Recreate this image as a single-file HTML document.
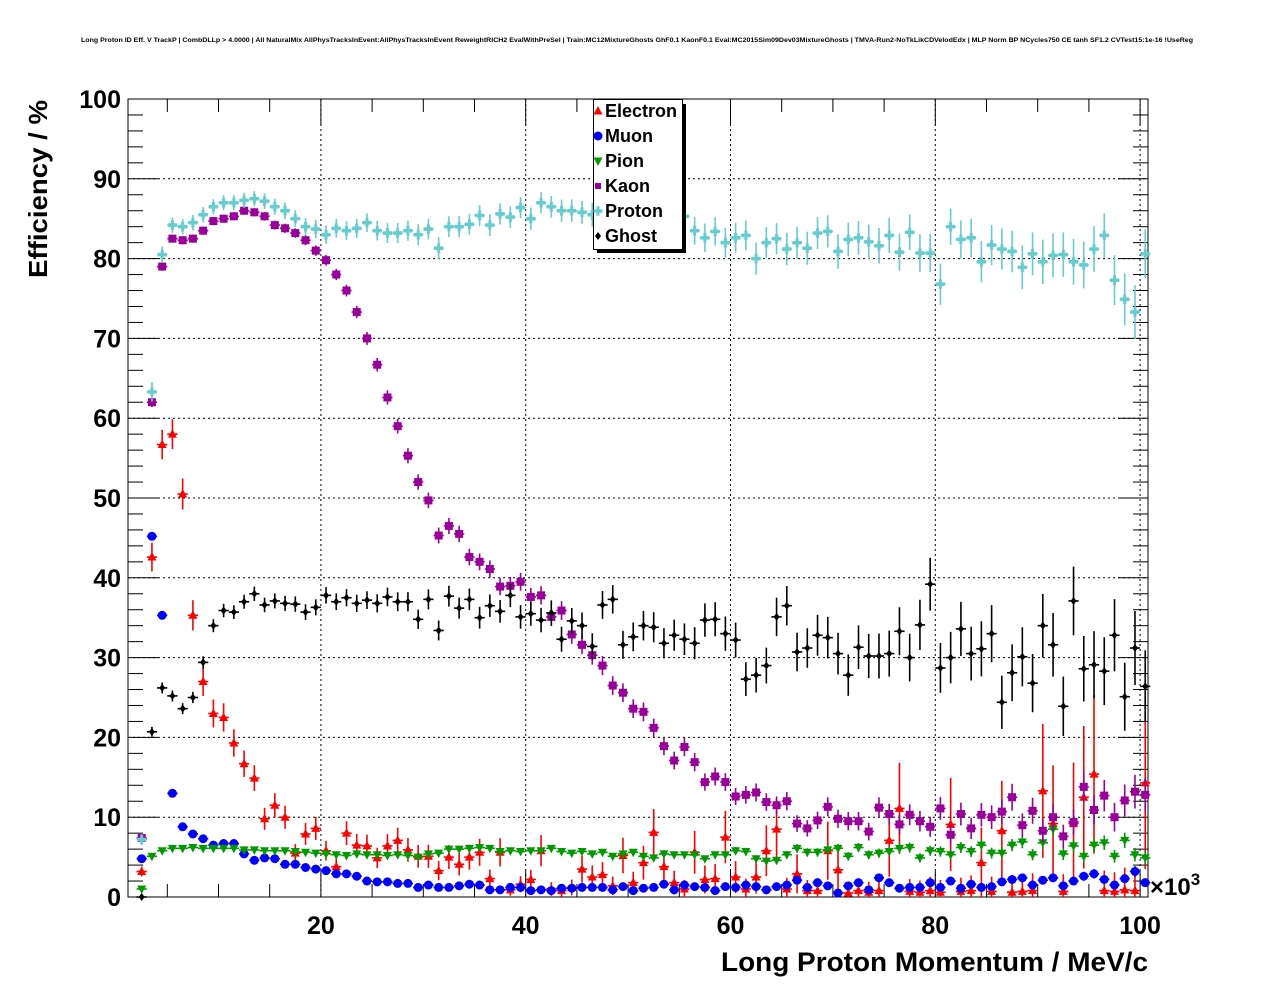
<!DOCTYPE html>
<html><head><meta charset="utf-8"><style>
html,body{margin:0;padding:0;background:#fff;}
svg{display:block;font-family:"Liberation Sans",sans-serif;}
</style></head><body>
<svg id="chart" width="1276" height="996" viewBox="0 0 1276 996">
<rect width="1276" height="996" fill="#fff"/>
<text x="637" y="42" font-size="6.5" font-weight="bold" text-anchor="middle" textLength="1112" lengthAdjust="spacingAndGlyphs">Long Proton ID Eff. V TrackP | CombDLLp &gt; 4.0000 | All NaturalMix AllPhysTracksInEvent:AllPhysTracksInEvent ReweightRICH2 EvalWithPreSel | Train:MC12MixtureGhosts GhF0.1 KaonF0.1 Eval:MC2015Sim09Dev03MixtureGhosts | TMVA-Run2-NoTkLikCDVelodEdx | MLP Norm BP NCycles750 CE tanh SF1.2 CVTest15:1e-16 !UseReg</text>
<g id="grid"></g>
<g id="axes"></g>
<g id="marks"></g>
<text x="0" y="0" transform="translate(47,189) rotate(-90)" font-size="26" font-weight="bold" text-anchor="middle" textLength="178" lengthAdjust="spacingAndGlyphs">Efficiency / %</text>
<text x="721" y="971" font-size="27" font-weight="bold" textLength="427" lengthAdjust="spacingAndGlyphs">Long Proton Momentum / MeV/c</text>
<text x="1150" y="895" font-size="24" font-weight="bold">×10<tspan font-size="17" dy="-10">3</tspan></text>
<g id="legend"></g>
</svg>
<script>
const categories = [];
for (let i = 0; i < 99; i++) categories.push(2.5 + i);
const xTicks = [20, 40, 60, 80, 100];
const yTicks = [0, 10, 20, 30, 40, 50, 60, 70, 80, 90, 100];
const seriesNames = ["Electron", "Muon", "Pion", "Kaon", "Proton", "Ghost"];
const electron = [3.2,42.6,56.7,58.0,50.5,35.3,27.0,23.0,22.5,19.3,16.7,14.9,9.8,11.5,10.0,5.5,7.9,8.6,5.8,3.8,8.0,6.5,6.4,4.9,6.4,7.1,5.9,5.1,5.1,3.3,5.0,4.1,5.0,5.6,2.3,5.6,0.9,1.6,2.2,5.8,1.0,0.8,1.2,3.5,2.5,2.8,1.4,5.2,1.8,4.3,8.1,3.8,1.8,1.0,5.6,2.2,2.3,7.5,2.5,1.0,2.5,5.8,8.5,1.0,2.9,0.8,0.8,5.8,3.4,0.5,0.8,0.6,0.8,7.1,11.1,0.7,0.6,0.8,0.6,9.1,0.7,0.8,4.3,0.7,8.3,0.6,0.7,0.8,13.3,9.2,0.7,9.2,12.5,15.4,0.8,0.7,0.9,0.8,14.3];
const muon = [4.8,45.2,35.3,13.0,8.8,7.9,7.3,6.5,6.7,6.7,5.4,4.6,4.9,4.8,4.1,4.1,3.7,3.5,3.3,2.9,2.9,2.6,2.0,1.9,1.9,1.7,1.7,1.2,1.5,1.2,1.2,1.4,1.6,1.5,0.9,0.9,1.2,1.2,0.8,0.9,0.8,1.1,1.1,1.2,1.2,1.2,0.9,1.3,0.8,1.1,1.2,1.6,0.9,1.5,1.3,1.2,0.8,1.3,1.2,1.5,1.3,0.9,1.3,1.5,2.1,1.2,1.8,1.4,0.5,1.4,1.8,0.9,2.4,1.8,1.1,1.2,1.2,1.8,1.2,2.0,1.1,1.6,1.2,1.3,1.9,2.2,2.4,1.5,2.1,2.4,1.4,2.0,2.6,2.9,2.2,1.5,2.3,3.2,1.8];
const pion = [1.0,5.1,5.8,6.1,6.1,6.2,6.1,6.1,6.1,6.1,5.9,5.9,5.8,5.8,5.8,5.7,5.6,5.5,5.4,5.3,5.2,5.4,5.3,5.3,5.2,5.3,5.2,5.0,5.4,5.5,6.0,6.0,6.1,6.2,6.1,5.7,5.8,5.7,5.8,5.8,6.1,5.7,5.5,5.7,5.4,5.6,5.1,5.4,5.6,5.1,4.9,5.4,5.3,5.3,5.3,4.8,5.3,5.3,5.8,5.7,4.8,4.5,4.6,5.3,6.1,5.6,5.6,5.9,6.1,5.1,6.2,5.3,5.5,5.7,6.1,6.2,4.9,5.8,5.7,5.3,6.2,5.7,6.5,5.5,5.5,6.5,6.9,5.3,6.8,8.5,5.4,6.4,5.1,6.5,6.8,5.1,7.1,5.3,4.9];
const kaon = [7.4,62.0,79.0,82.5,82.3,82.5,83.5,84.7,85.0,85.3,86.0,85.8,85.3,84.2,83.8,83.2,82.3,81.0,79.8,78.0,76.0,73.3,70.0,66.7,62.6,59.0,55.3,52.0,49.7,45.3,46.5,45.5,42.6,42.0,41.1,38.9,39.0,39.5,37.6,37.8,35.1,35.9,32.9,31.6,30.3,29.0,26.5,25.6,23.6,23.2,21.2,18.9,17.1,18.8,16.9,14.4,15.1,14.4,12.6,12.8,13.1,11.9,11.5,12.0,9.2,8.6,9.6,11.3,9.8,9.5,9.5,8.2,11.2,10.4,9.1,10.3,9.5,8.8,11.1,7.8,10.4,8.6,10.3,10.0,10.7,12.5,9.0,10.8,8.3,10.0,7.6,9.4,13.8,10.9,12.7,10.0,12.1,13.2,12.8];
const proton = [7.2,63.3,80.5,84.2,84.0,84.5,85.5,86.5,87.0,87.0,87.3,87.5,87.2,86.5,86.0,85.0,84.0,83.7,83.0,83.8,83.5,83.8,84.5,83.5,83.2,83.2,83.5,83.0,83.7,81.3,84.0,84.0,84.3,85.4,84.2,85.6,85.2,86.4,85.0,87.0,86.5,86.0,86.0,85.8,85.5,85.0,85.0,85.0,85.0,85.0,85.0,85.0,85.0,85.3,83.5,82.6,83.4,82.0,82.6,82.9,80.0,82.0,82.5,81.2,82.0,81.3,83.2,83.4,80.9,82.4,82.6,82.1,81.6,82.9,80.8,83.3,80.7,80.7,76.8,84.0,82.4,82.6,79.6,81.7,81.2,80.9,78.9,80.6,79.6,80.4,80.5,79.6,79.2,81.2,82.9,77.3,74.9,73.3,80.6];
const ghost = [0.0,20.7,26.2,25.2,23.6,25.0,29.4,34.0,35.9,35.7,37.0,38.0,36.6,37.1,36.8,36.7,35.7,36.3,37.8,37.0,37.5,36.8,37.2,36.8,37.6,37.0,37.0,34.8,37.3,33.4,37.7,36.2,37.3,35.0,36.5,35.8,37.8,35.1,35.5,34.7,35.6,32.3,34.6,34.0,31.4,36.6,37.3,31.6,32.6,34.0,33.8,31.8,32.8,32.3,31.8,34.7,34.8,33.0,32.2,27.3,27.8,29.0,35.1,36.5,30.7,31.2,32.8,32.5,30.5,27.8,31.3,30.2,30.2,30.5,33.3,30.0,34.1,39.2,28.7,30.0,33.6,30.5,31.1,33.0,24.4,28.1,30.1,26.8,34.0,31.6,23.9,37.1,28.6,29.1,28.3,32.8,25.1,31.2,26.4];

const NS = "http://www.w3.org/2000/svg";
const L = 128, R = 1148, T = 99, B = 897;
const xMin = 2.5 - (141.7 - L) / 10.24, xMax = 2.5 + (R - 141.7) / 10.24;
function xScale(v) { return L + (v - xMin) / (xMax - xMin) * (R - L); }
function yScale(v) { return B - v / 100 * (B - T); }
function mk(tag, attrs, parent) {
  const e = document.createElementNS(NS, tag);
  for (const k in attrs) e.setAttribute(k, attrs[k]);
  parent.appendChild(e);
  return e;
}
const grid = document.getElementById("grid");
const axes = document.getElementById("axes");
const marks = document.getElementById("marks");
const legend = document.getElementById("legend");

xTicks.forEach(t => {
  if (t >= xMax - 0.5) return;
  const g = mk("line", {x1: xScale(t), x2: xScale(t), y1: T, y2: B, stroke: "#000", "stroke-width": 1, "stroke-dasharray": "2,3"}, grid);
  
  
});
yTicks.forEach(t => {
  if (t === 0 || t === 100) return;
  const g = mk("line", {x1: L, x2: R, y1: yScale(t), y2: yScale(t), stroke: "#000", "stroke-width": 1, "stroke-dasharray": "2,3"}, grid);
  
  
});
const frame = mk("rect", {x: L, y: T, width: R - L, height: B - T, fill: "none", stroke: "#000", "stroke-width": 1}, axes);


for (let v = 0; v <= 100; v += 2) {
  const len = v % 10 === 0 ? 30 : 15;
  mk("line", {x1: L, x2: L + len, y1: yScale(v), y2: yScale(v), stroke: "#000"}, axes);
  mk("line", {x1: R, x2: R - len, y1: yScale(v), y2: yScale(v), stroke: "#000"}, axes);
}
yTicks.forEach(t => {
  const tx = mk("text", {x: 121, y: yScale(t) + 9, "font-size": 25, "font-weight": "bold", "text-anchor": "end"}, axes);
  tx.textContent = t;
  
  
});
for (let v = 5; v < xMax; v += 5) {
  const len = v % 20 === 0 ? 26 : 13;
  mk("line", {x1: xScale(v), x2: xScale(v), y1: B, y2: B - len, stroke: "#000"}, axes);
  mk("line", {x1: xScale(v), x2: xScale(v), y1: T, y2: T + len, stroke: "#000"}, axes);
}
xTicks.forEach(t => {
  const tx = mk("text", {x: xScale(t), y: 934, "font-size": 25, "font-weight": "bold", "text-anchor": "middle"}, axes);
  tx.textContent = t;
  
  
});

function marker(type, x, y, color, parent) {
  let e;
  if (type === "tri-up") e = mk("polygon", {points: `${x},${y-5} ${x-4.5},${y+3.5} ${x+4.5},${y+3.5}`, fill: color}, parent);
  else if (type === "tri-down") e = mk("polygon", {points: `${x},${y+5} ${x-4.5},${y-3.5} ${x+4.5},${y-3.5}`, fill: color}, parent);
  else if (type === "circle") e = mk("circle", {cx: x, cy: y, r: 4.5, fill: color}, parent);
  else if (type === "square") e = mk("rect", {x: x - 4, y: y - 4, width: 8, height: 8, fill: color}, parent);
  else if (type === "cross") e = mk("path", {d: `M${x-4.5},${y-1.8}h3v-3h3v3h3v3.6h-3v3h-3v-3h-3z`, fill: color}, parent);
  else e = mk("polygon", {points: `${x},${y-4} ${x+3},${y} ${x},${y+4} ${x-3},${y}`, fill: color}, parent);
  return e;
}
const styles = [
  {data: electron, color: "#ff0000", m: "tri-up", A: 790, tau: 22.7},
  {data: muon, color: "#0000ff", m: "circle", A: 17700, tau: 30},
  {data: pion, color: "#009900", m: "tri-down", A: 17700, tau: 30},
  {data: kaon, color: "#990099", m: "square", A: 6560, tau: 30},
  {data: proton, color: "#66cccc", m: "cross", A: 1560, tau: 44},
  {data: ghost, color: "#000000", m: "diamond", A: 4470, tau: 25.5}
];
styles.forEach((s, si) => {
  const g = mk("g", {}, marks);
  
  
  s.data.forEach((v, i) => {
    const cx = xScale(categories[i]), cy = yScale(v);
    const n = s.A * Math.exp(-i / s.tau);
    const err = Math.sqrt(Math.max(v * (100 - v), 30) / n);
    const top = yScale(Math.min(v + err, 100)), bot = yScale(Math.max(v - err, 0));
    mk("line", {x1: cx, x2: cx, y1: top, y2: bot, stroke: s.color, "stroke-width": 1.6}, g);
    mk("line", {x1: xScale(categories[i] - 0.5), x2: xScale(categories[i] + 0.5), y1: cy, y2: cy, stroke: s.color, "stroke-width": 1.6}, g);
    const p = marker(s.m, cx, cy, s.color, g);
    
    
  });
});

const lb = mk("rect", {x: 597, y: 104, width: 89, height: 149, fill: "#000"}, legend);


const lbox = mk("rect", {x: 593.5, y: 99.5, width: 89, height: 150, fill: "#fff", stroke: "#000", "stroke-width": 1}, legend);


styles.forEach((s, si) => {
  const y = 111 + 25 * si;
  const g = mk("g", {}, legend);
  
  
  const p = marker(s.m, 598, y, s.color, g);
  if (s.m === "square") { p.setAttribute("width", 6); p.setAttribute("height", 6); p.setAttribute("x", 595); p.setAttribute("y", y - 3); }
  const t = mk("text", {x: 605, y: y + 6, "font-size": 18, "font-weight": "bold"}, g);
  t.textContent = seriesNames[si];
});
</script>
</body></html>
